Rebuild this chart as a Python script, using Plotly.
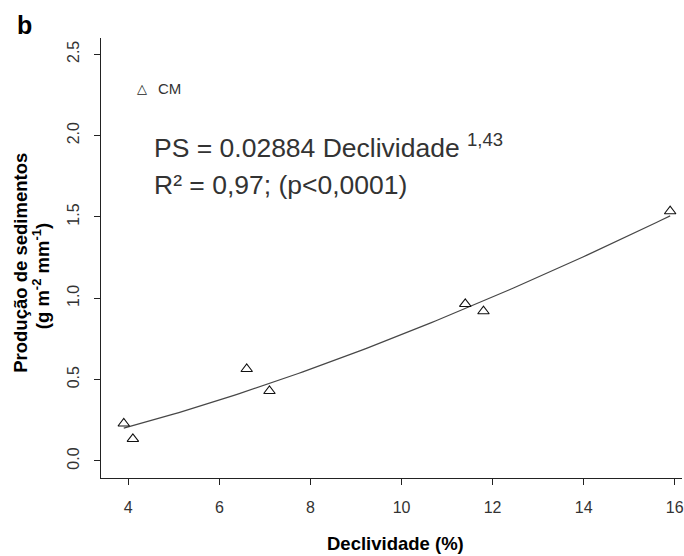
import plotly.graph_objects as go
import numpy as np

declividade = [3.9, 4.1, 6.6, 7.1, 11.4, 11.8, 15.9]
producao = [0.23, 0.135, 0.565, 0.43, 0.965, 0.92, 1.535]

# Fitted power model shown on the chart: PS = a * D^b
coef_a = 0.02884
coef_b = 1.43

x_ticks = [4, 6, 8, 10, 12, 14, 16]
y_ticks = [0.0, 0.5, 1.0, 1.5, 2.0, 2.5]
y_tick_labels = ["0.0", "0.5", "1.0", "1.5", "2.0", "2.5"]

FONT = "Liberation Sans, Arial, sans-serif"
W, H = 684, 556
ML, MR, MT, MB = 101, 0, 38, 78
PW, PH = W - ML - MR, H - MT - MB


def px(xp):
    return (xp - ML) / PW


def py(yp):
    return (H - MB - yp) / PH


fit_x = np.linspace(min(declividade), max(declividade), 120)
fit_y = coef_a * fit_x ** coef_b

fig = go.Figure()
fig.add_trace(go.Scatter(x=fit_x, y=fit_y, mode="lines",
                         line=dict(color="#474747", width=1.2),
                         showlegend=False, hoverinfo="skip"))
fig.add_trace(go.Scatter(x=declividade, y=producao, mode="markers",
                         marker=dict(symbol="triangle-up-open", size=10,
                                     color="#111", line=dict(width=1.1, color="#111")),
                         showlegend=False, name="CM"))

axis_common = dict(showgrid=False, zeroline=False, showline=True,
                   linecolor="#222", linewidth=1, ticks="outside",
                   ticklen=6, tickcolor="#222", tickwidth=1,
                   ticklabeloverflow="allow",
                   tickfont=dict(family=FONT, size=16, color="#333"))

fig.update_xaxes(range=[3.40, 16.16], tickvals=x_ticks,
                 ticktext=[str(v) for v in x_ticks],
                 ticklabelstandoff=9, **axis_common)
fig.update_yaxes(range=[-0.105, 2.6], tickvals=y_ticks, ticktext=y_tick_labels,
                 tickangle=-90, ticklabelstandoff=9, **axis_common)

ann = []
ann.append(dict(text="<b>b</b>", x=px(24), y=py(25), xref="paper", yref="paper",
                showarrow=False, font=dict(family=FONT, size=25, color="#000"),
                xanchor="center", yanchor="middle"))
ann.append(dict(text="<b>Declividade (%)</b>", x=px(397), y=py(543),
                xref="paper", yref="paper", showarrow=False,
                font=dict(family=FONT, size=18.5, color="#000"),
                xanchor="center", yanchor="middle"))
ann.append(dict(text="<b>Produção de sedimentos</b>", x=px(19.5), y=py(263),
                xref="paper", yref="paper", showarrow=False, textangle=-90,
                font=dict(family=FONT, size=18.5, color="#000"),
                xanchor="center", yanchor="middle"))
ann.append(dict(text="<b>(g m<sup>-2</sup> mm<sup>-1</sup>)</b>", x=px(41), y=py(276),
                xref="paper", yref="paper", showarrow=False, textangle=-90,
                font=dict(family=FONT, size=18.5, color="#000"),
                xanchor="center", yanchor="middle"))
ann.append(dict(text="△", x=px(142), y=py(88), xref="paper", yref="paper",
                showarrow=False, font=dict(family="DejaVu Sans", size=13, color="#222"),
                xanchor="center", yanchor="middle"))
ann.append(dict(text="CM", x=px(156), y=py(88), xref="paper", yref="paper",
                showarrow=False, font=dict(family=FONT, size=15, color="#333"),
                xanchor="left", yanchor="middle"))
ann.append(dict(text="PS = 0.02884 Declividade <sup>1,43</sup>", x=px(152), y=py(146),
                xref="paper", yref="paper", showarrow=False,
                font=dict(family=FONT, size=26.5, color="#333"),
                xanchor="left", yanchor="middle"))
ann.append(dict(text="R² = 0,97; (p<0,0001)", x=px(152), y=py(185),
                xref="paper", yref="paper", showarrow=False,
                font=dict(family=FONT, size=26.5, color="#333"),
                xanchor="left", yanchor="middle"))

fig.update_layout(width=W, height=H, margin=dict(l=ML, r=MR, t=MT, b=MB),
                  paper_bgcolor="white", plot_bgcolor="white",
                  annotations=ann, showlegend=False)

fig.write_html("out.html", config={"displayModeBar": False},
               post_script="document.body.style.margin='0';"
                           "document.body.style.overflow='hidden';")
